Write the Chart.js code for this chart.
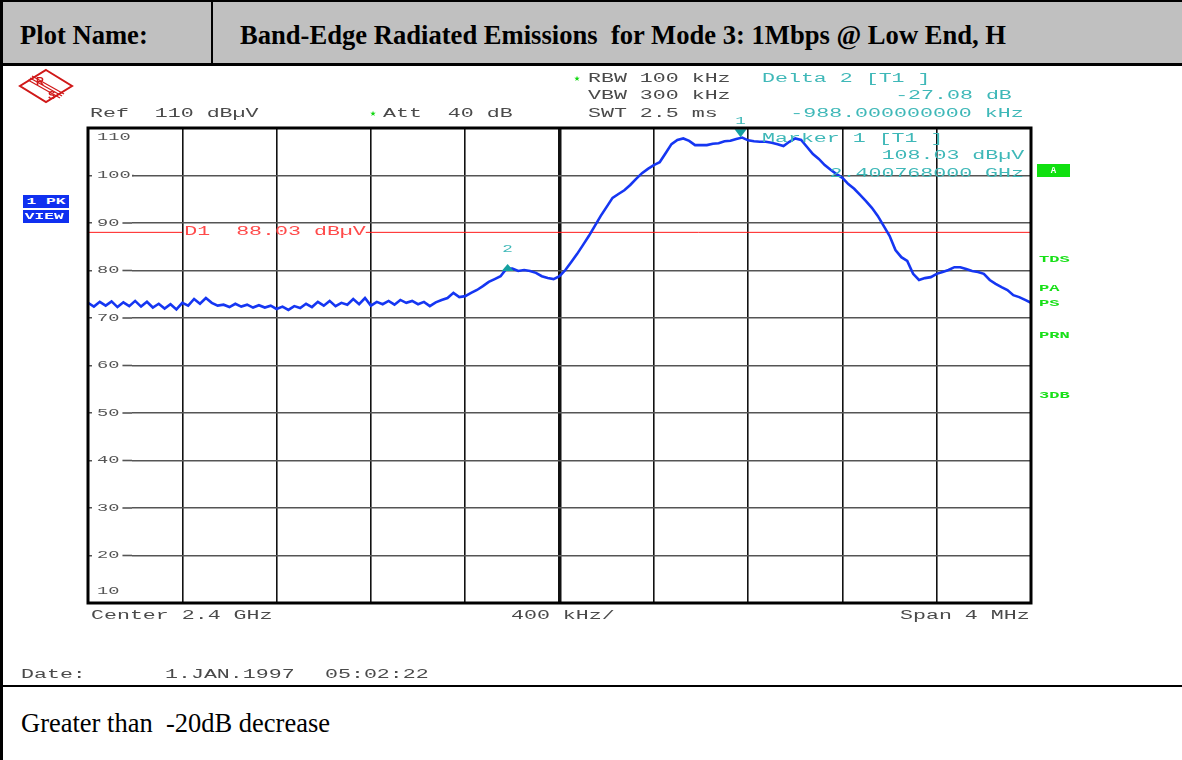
<!DOCTYPE html>
<html>
<head>
<meta charset="utf-8">
<script src="https://cdn.jsdelivr.net/npm/chart.js@4.4.1/dist/chart.umd.min.js"></script>
<style>
  html, body { margin:0; padding:0; background:#fff; }
  #page { position:relative; width:1182px; height:760px; overflow:hidden; background:#fff; }
  .hdr { position:absolute; left:0; top:0; width:1182px; height:66px; background:#c0c0c0;
         border-top:2px solid #000; border-bottom:3px solid #000; box-sizing:border-box; }
  .vline { position:absolute; background:#000; }
  .serif { position:absolute; font-family:"Liberation Serif", "Times New Roman", serif; white-space:pre; color:#000; }
  .mono { position:absolute; font-family:"Liberation Mono", "DejaVu Sans Mono", monospace; font-size:12px; line-height:12px;
          white-space:pre; transform:scaleX(1.8); transform-origin:0 50%; color:#4a4a4a; z-index:3; }
  .mono.r { transform-origin:100% 50%; text-align:right; }
  .teal { color:#3fb8b8; }
  .green { color:#12d812; }
  .tag { position:absolute; font-family:"Liberation Mono", monospace; font-weight:bold; font-size:9px; line-height:9px;
         white-space:pre; color:#18e018; transform:scaleX(1.9); transform-origin:0 50%; z-index:3; }
  .box { position:absolute; font-family:"Liberation Mono", monospace; font-weight:bold; font-size:9px; color:#fff;
         display:flex; align-items:center; z-index:3; overflow:hidden; }
  canvas { position:absolute; left:0; top:0; z-index:2; }
</style>
</head>
<body>
<div id="page">
  <div class="hdr"></div>
  <div class="vline" style="left:0;top:0;width:3px;height:760px;"></div>
  <div class="vline" style="left:211px;top:0;width:2px;height:66px;"></div>
  <div class="vline" style="left:0;top:685px;width:1182px;height:2px;"></div>
  <div class="serif" style="left:20px;top:20px;font-size:26.6px;font-weight:bold;">Plot Name:</div>
  <div class="serif" style="left:240px;top:20px;font-size:26.6px;font-weight:bold;">Band-Edge Radiated Emissions  for Mode 3: 1Mbps @ Low End, H</div>
  <div class="serif" style="left:21px;top:708px;font-size:26.5px;">Greater than  -20dB decrease</div>

  <svg style="position:absolute;left:18px;top:68px;z-index:3" width="56" height="36" viewBox="0 0 56 36">
    <g fill="none" stroke="#d01818" stroke-width="2">
      <polygon points="28,2 54,18 28,34 2,18"/>
      <line x1="12" y1="10" x2="44" y2="28" stroke-width="1.2"/>
      <line x1="14" y1="8" x2="46" y2="26" stroke-width="1.2"/>
      <line x1="10" y1="12" x2="42" y2="30" stroke-width="1.2"/>
    </g>
    <text x="18" y="17" font-family="Liberation Sans" font-weight="bold" font-size="11" fill="#d01818">R</text>
    <text x="30" y="31" font-family="Liberation Sans" font-weight="bold" font-size="11" fill="#d01818">S</text>
  </svg>

  <div class="mono green" style="left:574px;top:73px;transform:none;font-size:10px;">★</div>
  <div class="mono" style="left:588px;top:73px;">RBW 100 kHz</div>
  <div class="mono" style="left:588px;top:90px;">VBW 300 kHz</div>
  <div class="mono" style="left:588px;top:108px;">SWT 2.5 ms</div>
  <div class="mono teal" style="left:762px;top:73px;">Delta 2 [T1 ]</div>
  <div class="mono teal r" style="right:170px;top:90px;">-27.08 dB</div>
  <div class="mono teal r" style="right:158px;top:108px;">-988.000000000 kHz</div>
  <div class="mono" style="left:90px;top:108px;">Ref  110 dBµV</div>
  <div class="mono green" style="left:370px;top:108px;transform:none;font-size:10px;">★</div>
  <div class="mono" style="left:383px;top:108px;">Att  40 dB</div>
  <div class="mono teal" style="left:762px;top:133px;">Marker 1 [T1 ]</div>
  <div class="mono teal r" style="right:158px;top:150px;">108.03 dBµV</div>
  <div class="mono teal r" style="right:158px;top:168px;">2.400768000 GHz</div>

  <div class="mono" style="left:91px;top:610px;">Center 2.4 GHz</div>
  <div class="mono" style="left:511px;top:610px;">400 kHz/</div>
  <div class="mono" style="left:900px;top:610px;">Span 4 MHz</div>
  <div class="mono" style="left:21px;top:669px;">Date:</div>
  <div class="mono" style="left:165px;top:669px;">1.JAN.1997</div>
  <div class="mono" style="left:325px;top:669px;">05:02:22</div>

  <div class="box" style="left:23px;top:195px;width:46px;height:13px;background:#1030f0;"><span style="transform:scaleX(1.8);transform-origin:0 50%;padding-left:2px;">1 PK</span></div>
  <div class="box" style="left:23px;top:210px;width:46px;height:13px;background:#1030f0;"><span style="transform:scaleX(1.8);transform-origin:0 50%;padding-left:1px;">VIEW</span></div>
  <div class="box" style="left:1037px;top:164px;width:33px;height:13px;background:#10e010;justify-content:center;">A</div>
  <div class="tag" style="left:1039px;top:256px;">TDS</div>
  <div class="tag" style="left:1039px;top:285px;">PA</div>
  <div class="tag" style="left:1039px;top:300px;">PS</div>
  <div class="tag" style="left:1039px;top:332px;">PRN</div>
  <div class="tag" style="left:1039px;top:392px;">3DB</div>

  <canvas id="c" width="1182" height="760"></canvas>
</div>
<script>
// ---- data ----
const spanStartKHz = -2000;      // relative to center 2.4 GHz
const sweepStepKHz = 25;          // 4 MHz span / 160 steps
const yTickValues = [10, 20, 30, 40, 50, 60, 70, 80, 90, 100, 110];
const levelsDbuV = [
  73.2, 72.4, 73.4, 72.6, 73.5, 72.3, 73.3, 72.5, 73.6, 72.4,
  73.4, 72.2, 73.0, 72.0, 72.9, 71.8, 73.2, 72.6, 74.0, 73.0,
  74.2, 73.2, 72.6, 72.8, 72.3, 73.0, 72.4, 72.8, 72.2, 72.7,
  72.2, 72.6, 71.9, 72.4, 71.7, 72.5, 72.1, 73.0, 72.3, 73.4,
  72.6, 73.6, 72.5, 73.2, 72.8, 74.0, 72.9, 74.2, 72.6, 73.4,
  72.9, 73.6, 72.8, 73.8, 73.2, 73.6, 72.9, 73.4, 72.5, 73.3,
  73.8, 74.2, 75.3, 74.4, 74.6, 75.3, 75.9, 76.7, 77.6, 78.2,
  78.8, 80.4, 80.4, 79.9, 80.1, 79.9, 79.5, 78.8, 78.4, 78.2,
  78.8, 80.1, 81.8, 83.5, 85.4, 87.3, 89.4, 91.5, 93.4, 95.3,
  96.1, 96.9, 98.0, 99.3, 100.5, 101.4, 102.2, 102.8, 104.7, 106.6,
  107.5, 107.8, 107.3, 106.4, 106.4, 106.4, 106.7, 106.8, 107.2, 107.3,
  107.7, 108.0, 107.4, 107.2, 107.1, 107.1, 106.9, 106.6, 106.2, 107.1,
  107.8, 107.5, 106.0, 104.5, 103.5, 102.2, 101.2, 100.3, 99.5, 98.2,
  97.2, 95.9, 94.6, 93.2, 91.5, 89.4, 87.3, 84.3, 82.8, 82.0,
  79.3, 78.0, 78.4, 78.6, 79.3, 79.7, 80.1, 80.7, 80.7, 80.3,
  79.9, 79.7, 79.3, 78.0, 77.2, 76.5, 75.9, 74.8, 74.4, 73.8,
  73.2
];
const sweepKHz = levelsDbuV.map((_, i) => spanStartKHz + i * sweepStepKHz);
const markerKHz = [768, -220];          // marker 1, marker 2 (delta -988 kHz)
const markerLevels = [108.03, 80.95];
const markerNames = ['1', '2'];
const displayLineLevel = 88.03;
const displayLineLabel = 'D1  88.03 dBµV';

const monoFont = '"Liberation Mono", "DejaVu Sans Mono", monospace';

function stretchedText(ctx, text, x, y, size, sx, color, align) {
  ctx.save();
  ctx.font = size + 'px ' + monoFont;
  ctx.fillStyle = color;
  ctx.textBaseline = 'middle';
  const w = ctx.measureText(text).width * sx;
  const left = align === 'center' ? x - w / 2 : (align === 'right' ? x - w : x);
  ctx.translate(left, y);
  ctx.scale(sx, 1);
  ctx.textAlign = 'left';
  ctx.fillText(text, 0, 0);
  ctx.restore();
  return w;
}

const overlay = {
  id: 'overlay',
  beforeDatasetsDraw(chart) {
    const { ctx, chartArea: a, scales: { x, y } } = chart;
    // y tick labels (inside the grid, as on the analyzer screen)
    yTickValues.forEach(v => {
      const py = y.getPixelForValue(v);
      let cy = py;
      if (v === 110) cy = py + 9;
      else if (v === 10) cy = py - 12;
      else {
        ctx.save();
        ctx.fillStyle = '#fff';
        ctx.fillRect(a.left + 4, py - 3, 40, 6);
        ctx.restore();
      }
      stretchedText(ctx, String(v), a.left + 9, cy, 11, 1.7, '#555', 'left');
    });
    yTickValues.forEach(v => {
      if (v === 110 || v === 10) return;
      const py = y.getPixelForValue(v);
      const w = String(v).length * 11 * 0.6 * 1.7;
      ctx.save();
      ctx.strokeStyle = '#555';
      ctx.lineWidth = 1.6;
      ctx.beginPath();
      ctx.moveTo(a.left + 9 + w + 3, py);
      ctx.lineTo(a.left + 44, py);
      ctx.stroke();
      ctx.restore();
    });
    // display line D1
    const dy = y.getPixelForValue(displayLineLevel);
    const gx0 = x.getPixelForValue(-1600);
    ctx.save();
    ctx.strokeStyle = '#ff1a1a';
    ctx.lineWidth = 1;
    ctx.beginPath();
    ctx.moveTo(a.left, dy); ctx.lineTo(gx0, dy);
    ctx.stroke();
    const lw = stretchedText(ctx, displayLineLabel, gx0 + 2, dy - 1, 12, 1.8, '#ff4a4a', 'left');
    ctx.beginPath();
    ctx.moveTo(gx0 + lw + 2, dy); ctx.lineTo(a.right, dy);
    ctx.stroke();
    ctx.restore();
  },
  afterDatasetsDraw(chart) {
    const { ctx, chartArea: a, scales: { x, y } } = chart;
    markerKHz.forEach((f, i) => {
      const px = x.getPixelForValue(f);
      const py = y.getPixelForValue(markerLevels[i]);
      ctx.save();
      ctx.fillStyle = '#14a0a0';
      ctx.beginPath();
      if (i === 0) {
        ctx.moveTo(px - 6, py - 8); ctx.lineTo(px + 6, py - 8); ctx.lineTo(px, py);
      } else {
        ctx.moveTo(px - 6, py + 5); ctx.lineTo(px + 6, py + 5); ctx.lineTo(px, py - 2);
      }
      ctx.closePath();
      ctx.fill();
      ctx.restore();
      const ly = i === 0 ? py - 16 : py - 17;
      stretchedText(ctx, markerNames[i], px, ly, 11, 1.6, '#3fb8b8', 'center');
    });
    ctx.save();
    ctx.strokeStyle = '#000';
    ctx.lineWidth = 3;
    ctx.strokeRect(a.left, a.top, a.right - a.left, a.bottom - a.top);
    ctx.restore();
  }
};

new Chart(document.getElementById('c'), {
  type: 'line',
  data: {
    datasets: [{
      data: sweepKHz.map((f, i) => ({ x: f, y: levelsDbuV[i] })),
      borderColor: '#1536f2',
      borderWidth: 2.6,
      pointRadius: 0,
      tension: 0,
      fill: false
    }]
  },
  options: {
    responsive: false,
    animation: false,
    events: [],
    layout: { padding: { left: 88, top: 128, right: 151, bottom: 157 } },
    plugins: { legend: { display: false }, tooltip: { enabled: false }, title: { display: false } },
    scales: {
      x: {
        type: 'linear', min: -2000, max: 2000,
        ticks: { display: false, stepSize: 400 },
        grid: { color: '#111', lineWidth: c => (Math.abs(c.tick.value) < 1e-6 ? 3.5 : 1.6), drawTicks: false, tickLength: 0 },
        border: { display: false }
      },
      y: {
        type: 'linear', min: 10, max: 110,
        ticks: { display: false, stepSize: 10 },
        grid: { color: '#555', lineWidth: 1.6, drawTicks: false, tickLength: 0 },
        border: { display: false }
      }
    }
  },
  plugins: [overlay]
});
</script>
</body>
</html>
